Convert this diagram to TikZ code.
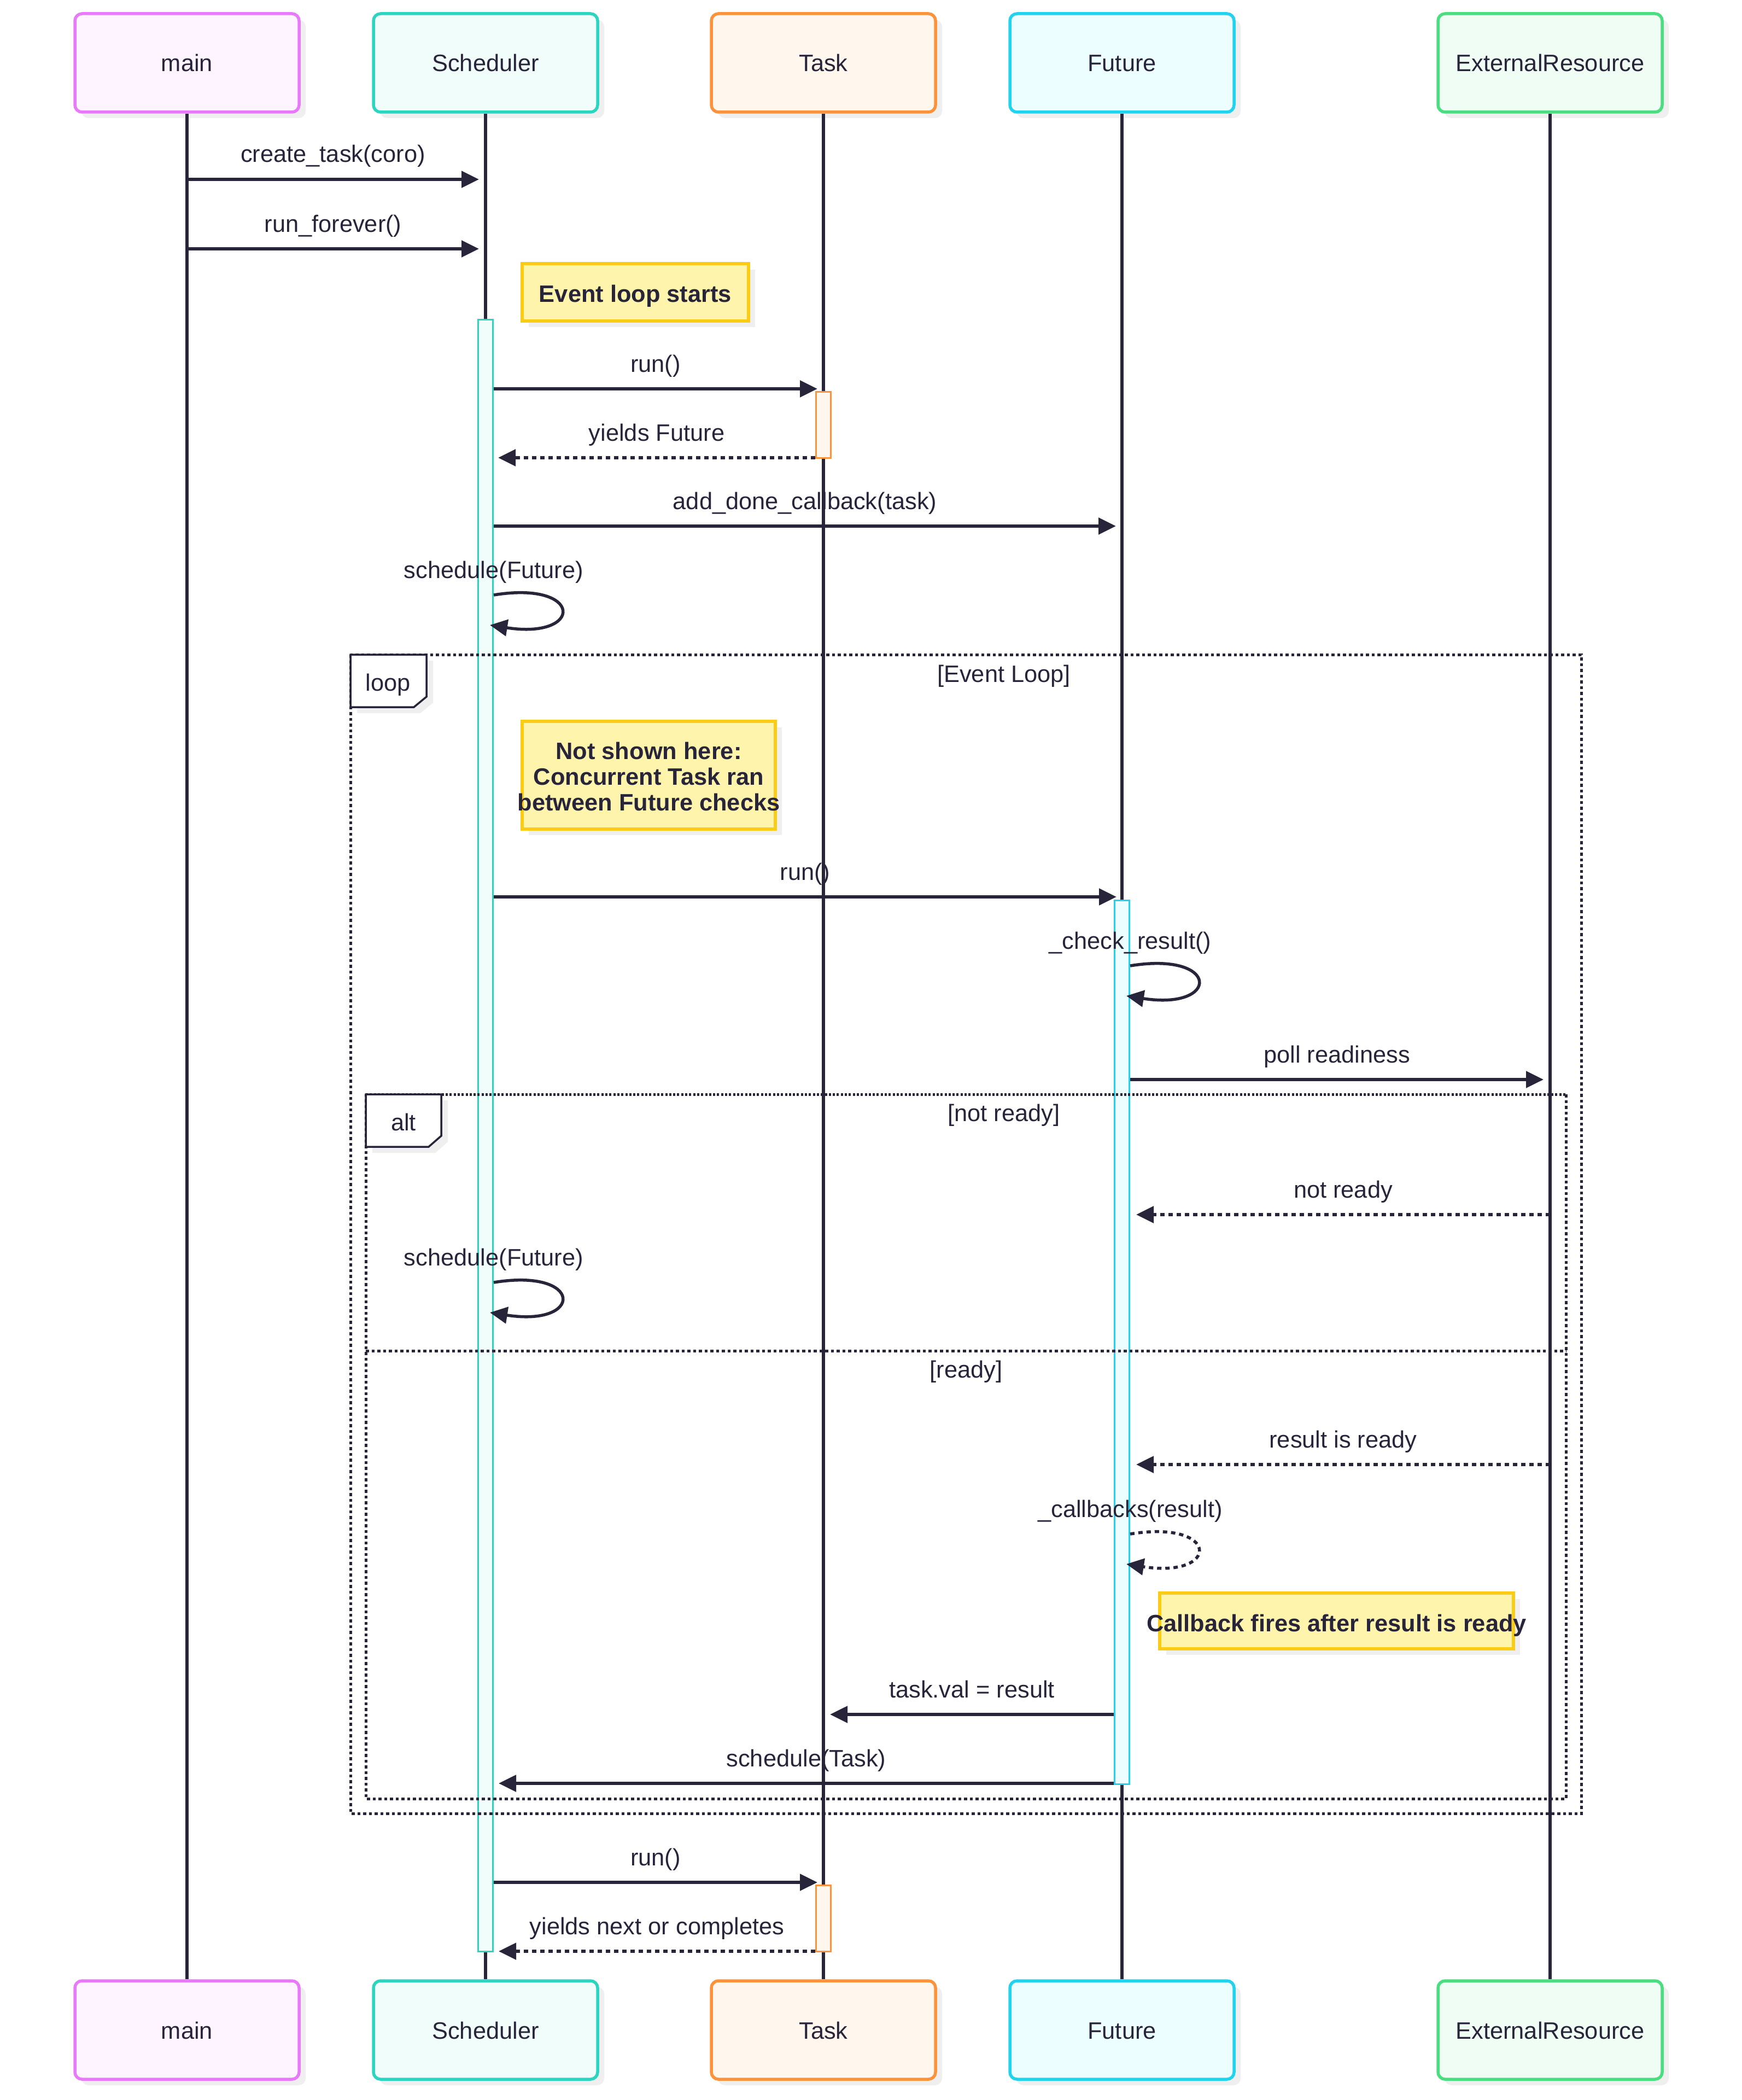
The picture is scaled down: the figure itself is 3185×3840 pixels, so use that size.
\documentclass[tikz,border=0pt]{standalone}
\usepackage{fontspec}
\setmainfont{Liberation Sans}
\usetikzlibrary{arrows.meta,shadows}
\definecolor{ink}{HTML}{28253B}
\definecolor{shadowc}{HTML}{EFEFEF}
\definecolor{mainB}{HTML}{E879F9}\definecolor{mainF}{HTML}{FDF4FF}
\definecolor{schB}{HTML}{2DD4BF}\definecolor{schF}{HTML}{F0FDFA}
\definecolor{tskB}{HTML}{FB923C}\definecolor{tskF}{HTML}{FFF7ED}
\definecolor{futB}{HTML}{22D3EE}\definecolor{futF}{HTML}{ECFEFF}
\definecolor{extB}{HTML}{4ADE80}\definecolor{extF}{HTML}{F0FDF4}
\definecolor{noteB}{HTML}{FACC15}\definecolor{noteF}{HTML}{FEF4AB}
\newcommand{\txtsize}{\fontsize{43.4pt}{47pt}\selectfont}
\begin{document}
\begin{tikzpicture}[x=1pt,y=-1pt,
  >={Triangle[length=32pt,width=30pt]},
  party/.style 2 args={draw=#1, fill=#2, line width=5.5pt, rounded corners=13pt,
     minimum width=410pt, minimum height=180pt, inner sep=0pt,
     text height=38pt, text depth=6pt, font=\txtsize, text=ink,
     drop shadow={shadow xshift=12pt, shadow yshift=-11pt, fill=shadowc, opacity=1}},
  life/.style={draw=ink, line width=5.5pt},
  actbar/.style 2 args={draw=#1, fill=#2, line width=3pt, minimum width=27pt, inner sep=0pt},
  msg/.style={draw=ink, line width=5.5pt, ->},
  reply/.style={msg, dash pattern=on 8pt off 7pt},
  lbl/.style={font=\txtsize, text=ink, anchor=base, yshift=31pt, inner sep=0pt},
  ftext/.style={font=\txtsize, text=ink, anchor=base, inner sep=0pt},
  frameline/.style={draw=ink, line width=5pt, dash pattern=on 5.5pt off 5pt},
  framebox/.style={inner sep=0pt, outer sep=0pt},
  notebox/.style={draw=noteB, fill=noteF, line width=5.5pt, inner sep=0pt,
     drop shadow={shadow xshift=12pt, shadow yshift=-11pt, fill=shadowc, opacity=1}},
  notetext/.style={font=\txtsize\bfseries, text=ink, inner sep=0pt, align=center},
  tagbox/.style={draw=ink, fill=white, line width=3.5pt},
]
\useasboundingbox (0,0) rectangle (3185,3840);
\fill[white] (0,0) rectangle (3185,3840);

% participants
\node[party={mainB}{mainF}] (mainTop) at (342,115) {main};
\node[party={schB}{schF}] (schTop) at (888,115) {Scheduler};
\node[party={tskB}{tskF}] (tskTop) at (1506,115) {Task};
\node[party={futB}{futF}] (futTop) at (2052,115) {Future};
\node[party={extB}{extF}] (extTop) at (2835,115) {ExternalResource};
\node[party={mainB}{mainF}] (mainBot) at (342,3712) {main};
\node[party={schB}{schF}] (schBot) at (888,3712) {Scheduler};
\node[party={tskB}{tskF}] (tskBot) at (1506,3712) {Task};
\node[party={futB}{futF}] (futBot) at (2052,3712) {Future};
\node[party={extB}{extF}] (extBot) at (2835,3712) {ExternalResource};

% lifelines
\draw[life] (mainTop.south) -- (mainBot.north);
\draw[life] (schTop.south) -- (schBot.north);
\draw[life] (tskTop.south) -- (tskBot.north);
\draw[life] (futTop.south) -- (futBot.north);
\draw[life] (extTop.south) -- (extBot.north);

% activations
\node[actbar={schB}{schF}, minimum height=2984pt] (actS) at (888,2076) {};
\node[actbar={tskB}{tskF}, minimum height=121pt] (actT1) at (1506,776.5) {};
\node[actbar={futB}{futF}, minimum height=1616pt] (actF) at (2052,2454) {};
\node[actbar={tskB}{tskF}, minimum height=121pt] (actT2) at (1506,3507.5) {};

% loop frame
\node[framebox, minimum width=2251pt, minimum height=2119pt] (loopFr) at (1766.5,2256.5) {};
\draw[frameline] (loopFr.north west) rectangle (loopFr.south east);
\fill[shadowc] ([shift={(12,11)}]loopFr.north west) -- ++(139,0) -- ++(0,77) -- ++(-23,19) -- ++(-116,0) -- cycle;
\draw[tagbox] (loopFr.north west) -- ++(139,0) -- ++(0,77) -- ++(-23,19) -- ++(-116,0) -- cycle;
\node[ftext] (loopTag) at (710,1263) {loop};
\node[ftext] (loopCond) at (1836,1247) {[Event Loop]};

% alt frame
\node[framebox, minimum width=2195pt, minimum height=1288pt] (altFr) at (1766.5,2645) {};
\draw[frameline] (altFr.north east) -- (altFr.south east) -- (altFr.south west) -- (altFr.north west);
\draw[frameline, dash pattern=on 4pt off 3.3pt] (altFr.north west) -- (altFr.north east);
\draw[frameline] (altFr.west |- 0,2470) -- (altFr.east |- 0,2470);
\fill[shadowc] ([shift={(12,11)}]altFr.north west) -- ++(138,0) -- ++(0,76) -- ++(-23,20) -- ++(-115,0) -- cycle;
\draw[tagbox] (altFr.north west) -- ++(138,0) -- ++(0,76) -- ++(-23,20) -- ++(-115,0) -- cycle;
\node[ftext] (altTag) at (738,2067) {alt};
\node[ftext] (altCond) at (1836,2050) {[not ready]};
\node[ftext] (altElse) at (1767,2519) {[ready]};

% notes
\node[notebox, minimum width=414pt, minimum height=105pt] (noteA) at (1162,534.5) {};
\node[notetext, anchor=base] (noteAt) at (1162,552) {Event loop starts};
\node[notebox, minimum width=463pt, minimum height=197pt] (noteB) at (1186.5,1417.5) {};
\node[notetext] (noteBt) at (1186.5,1419.5) {Not shown here:\\Concurrent Task ran\\between Future checks};
\node[notebox, minimum width=647pt, minimum height=102pt] (noteC) at (2444.5,2964) {};
\node[notetext, anchor=base] (noteCt) at (2444.5,2983) {Callback fires after result is ready};

% messages
\draw[msg] (mainTop |- 0,328) -- node[lbl] (l1) {create\_task(coro)} ([xshift=-12pt]schTop |- 0,328);
\draw[msg] (mainTop |- 0,455) -- node[lbl] (l2) {run\_forever()} ([xshift=-12pt]schTop |- 0,455);
\draw[msg] (actS.east |- 0,711) -- node[lbl] (l3) {run()} ([xshift=-11pt]tskTop |- 0,711);
\draw[reply] (actT1.west |- 0,837) -- node[lbl] (l4) {yields Future} ([xshift=8pt]actS.east |- 0,837);
\draw[msg] (actS.east |- 0,962) -- node[lbl] (l5) {add\_done\_callback(task)} ([xshift=-11pt]futTop |- 0,962);
\draw[msg] (actS.east |- 0,1088) node[lbl] (l6) {schedule(Future)} .. controls +(165,-27) and +(172,27) .. ++(-7,55);
\draw[msg] (actS.east |- 0,1640) -- node[lbl] (l7) {run()} ([xshift=-10pt]futTop |- 0,1640);
\draw[msg] (actF.east |- 0,1766) node[lbl] (l8) {\_check\_result()} .. controls +(165,-27) and +(172,27) .. ++(-7,55);
\draw[msg] (actF.east |- 0,1974) -- node[lbl] (l9) {poll readiness} ([xshift=-12pt]extTop |- 0,1974);
\draw[reply] (extTop |- 0,2221) -- node[lbl] (l10) {not ready} ([xshift=11pt]actF.east |- 0,2221);
\draw[msg] (actS.east |- 0,2345) node[lbl] (l11) {schedule(Future)} .. controls +(165,-27) and +(172,27) .. ++(-7,55);
\draw[reply] (extTop |- 0,2678) -- node[lbl] (l12) {result is ready} ([xshift=11pt]actF.east |- 0,2678);
\draw[reply] (actF.east |- 0,2805) node[lbl] (l13) {\_callbacks(result)} .. controls +(165,-27) and +(172,27) .. ++(-7,55);
\draw[msg] (actF.west |- 0,3135) -- node[lbl] (l14) {task.val = result} ([xshift=12pt]tskTop |- 0,3135);
\draw[msg] (actF.west |- 0,3261) -- node[lbl] (l15) {schedule(Task)} ([xshift=9pt]actS.east |- 0,3261);
\draw[msg] (actS.east |- 0,3442) -- node[lbl] (l16) {run()} ([xshift=-11pt]tskTop |- 0,3442);
\draw[reply] (actT2.west |- 0,3568) -- node[lbl] (l17) {yields next or completes} ([xshift=9pt]actS.east |- 0,3568);
\end{tikzpicture}
\end{document}
